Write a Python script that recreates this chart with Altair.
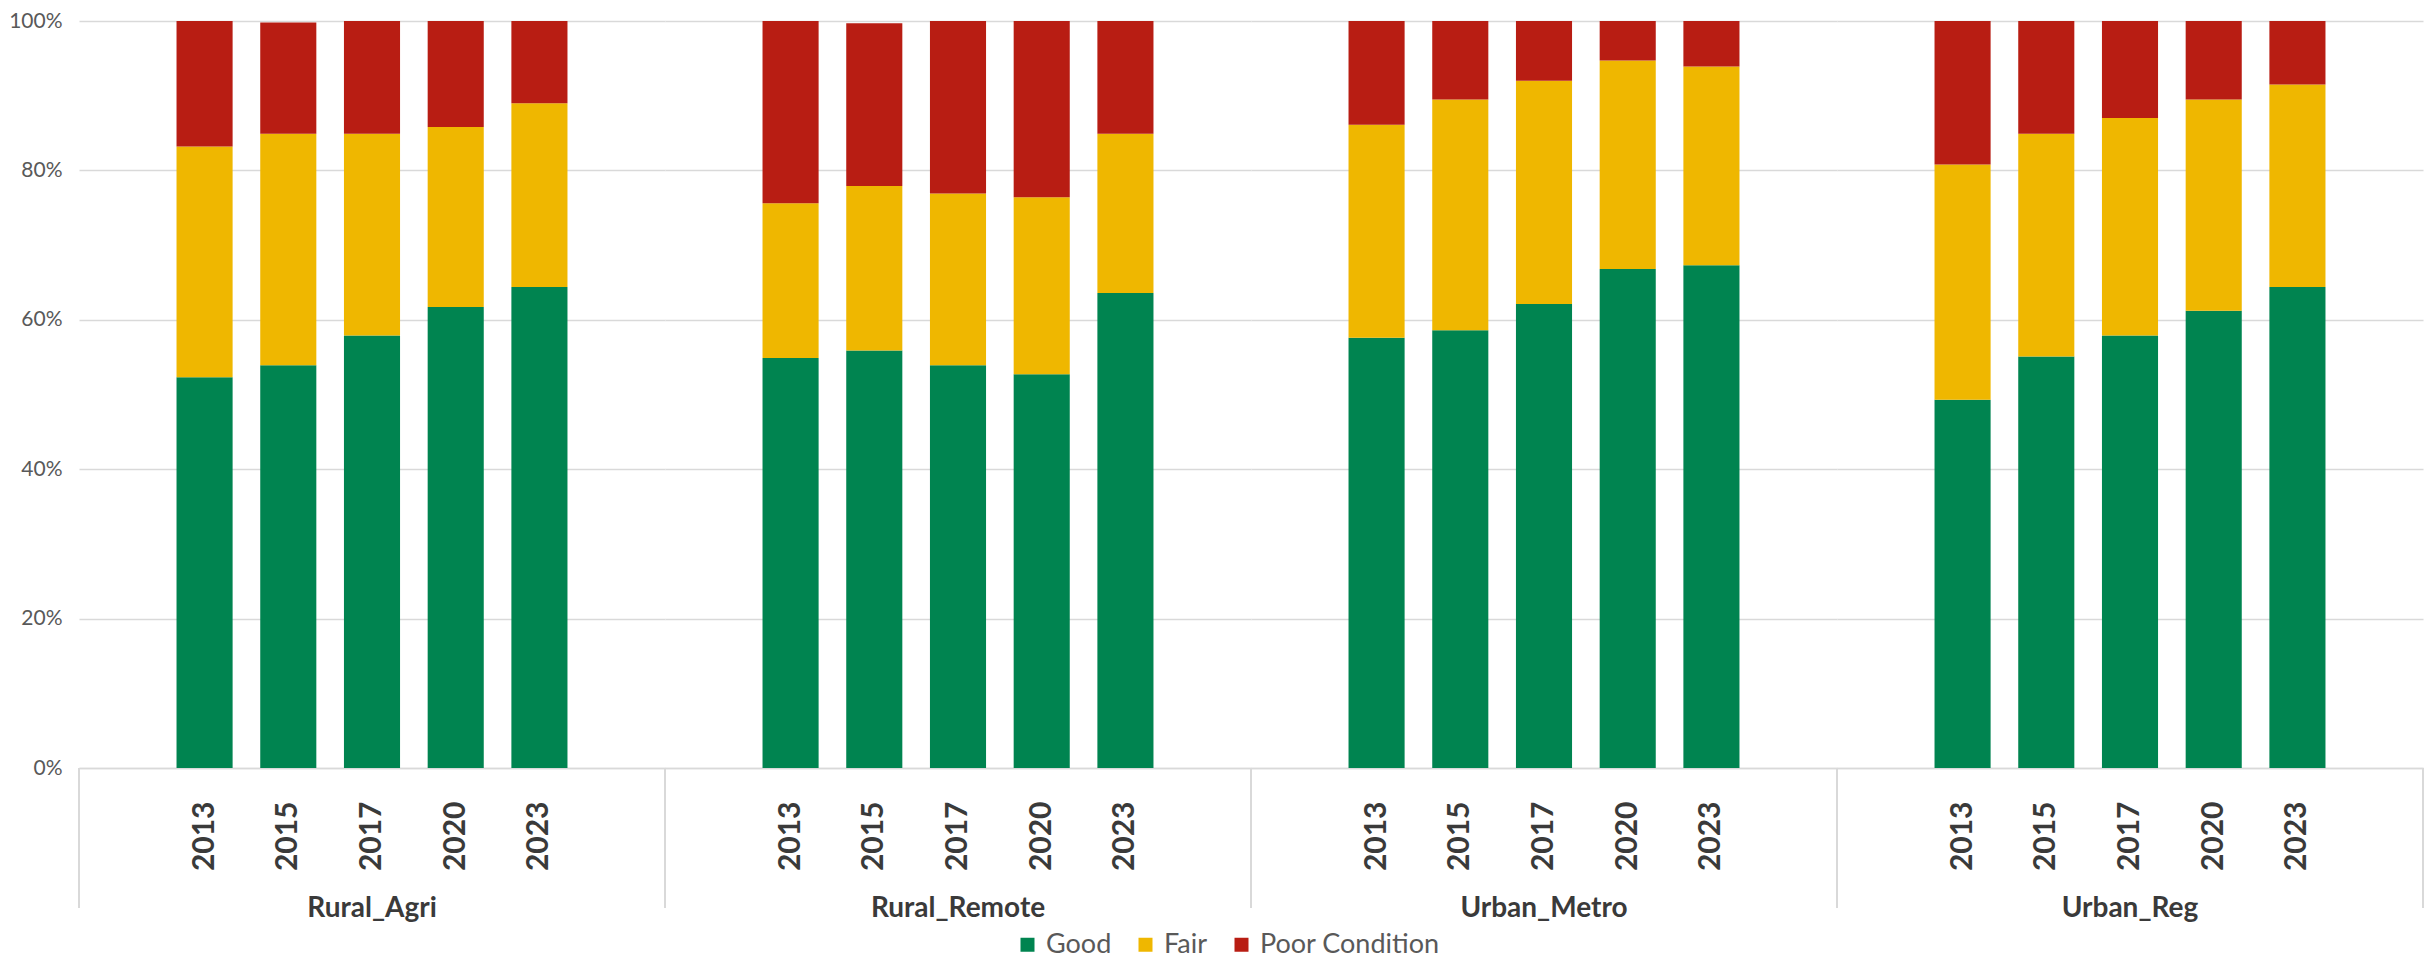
import altair as alt
import pandas as pd

groups = ["Rural_Agri", "Rural_Remote", "Urban_Metro", "Urban_Reg"]
years = ["2013", "2015", "2017", "2020", "2023"]
statuses = ["Good", "Fair", "Poor Condition"]
colors = ["#008450", "#EFB700", "#B81D13"]

# percentages
good = {
    "Rural_Agri":   [52.3, 53.9, 57.9, 61.7, 64.4],
    "Rural_Remote": [54.9, 55.9, 53.9, 52.7, 63.6],
    "Urban_Metro":  [57.6, 58.6, 62.1, 66.8, 67.3],
    "Urban_Reg":    [49.3, 55.1, 57.9, 61.2, 64.4],
}
fair = {
    "Rural_Agri":   [30.9, 31.0, 27.0, 24.1, 24.6],
    "Rural_Remote": [20.7, 22.0, 23.0, 23.7, 21.3],
    "Urban_Metro":  [28.5, 30.9, 29.9, 27.9, 26.6],
    "Urban_Reg":    [31.5, 29.8, 29.1, 28.3, 27.1],
}
poor = {
    "Rural_Agri":   [16.8, 14.9, 15.1, 14.2, 11.0],
    "Rural_Remote": [24.4, 21.8, 23.1, 23.6, 15.1],
    "Urban_Metro":  [13.9, 10.5, 8.0, 5.3, 6.1],
    "Urban_Reg":    [19.2, 15.1, 13.0, 10.5, 8.5],
}

rows = []
for g in groups:
    for i, y in enumerate(years):
        for k, (s, src) in enumerate(zip(statuses, [good, fair, poor])):
            rows.append({"group": g, "year": y, "status": s,
                         "value": src[g][i] / 100.0, "ord": k})
df = pd.DataFrame(rows)

W = 586
H = 747
FONT = "Lato"
GRID = "#d9d9d9"
x_domain = ["pre"] + years + ["post"]   # empty slots either side, as in the original

bars = alt.Chart().mark_bar().encode(
    x=alt.X("year:N", title=None,
            scale=alt.Scale(domain=x_domain, paddingInner=0.33, paddingOuter=0.165),
            axis=alt.Axis(labelAngle=270, labelFont=FONT, labelFontSize=30,
                          labelFontWeight="bold", labelColor="#3a3a3a",
                          labelExpr="(datum.value == 'pre' || datum.value == 'post') ? '' : datum.label",
                          labelPadding=33, ticks=False, domainColor=GRID,
                          domainWidth=1.5)),
    y=alt.Y("value:Q", stack="zero", title=None,
            scale=alt.Scale(domain=[0, 1]),
            axis=alt.Axis(format=".0%", values=[0, 0.2, 0.4, 0.6, 0.8, 1.0],
                          labelFont=FONT, labelFontSize=21, labelColor="#595959",
                          labelPadding=17, ticks=False, domain=False,
                          gridColor=GRID, gridWidth=1.5)),
    color=alt.Color("status:N", title=None,
                    scale=alt.Scale(domain=statuses, range=colors),
                    legend=alt.Legend(orient="none", direction="horizontal",
                                      legendX=935, legendY=H + 163,
                                      symbolType="square", symbolSize=196,
                                      symbolStrokeWidth=0,
                                      labelFont=FONT, labelFontSize=27,
                                      labelColor="#595959", labelOffset=5,
                                      labelLimit=0, columnPadding=20)),
    order=alt.Order("ord:Q"),
)

sep_left = alt.Chart().mark_rule(color=GRID, strokeWidth=1.5).encode(
    x=alt.value(0), y=alt.value(H), y2=alt.value(H + 140))
sep_right = alt.Chart().mark_rule(color=GRID, strokeWidth=1.5).encode(
    x=alt.value(W), y=alt.value(H), y2=alt.value(H + 140))

chart = alt.layer(bars, sep_left, sep_right, data=df).properties(
    width=W, height=H
).facet(
    column=alt.Column("group:N", sort=groups, title=None,
                      header=alt.Header(labelOrient="bottom", labelFont=FONT,
                                        labelFontSize=28, labelFontWeight="bold",
                                        labelColor="#3a3a3a", labelPadding=24)),
    spacing=0,
    bounds="flush",
).properties(
    padding={"left": 0, "right": 0, "top": 2, "bottom": 0},
    background="white",
).configure_view(strokeWidth=0)

chart.save("out.html", embed_options={"renderer": "svg", "actions": False})
